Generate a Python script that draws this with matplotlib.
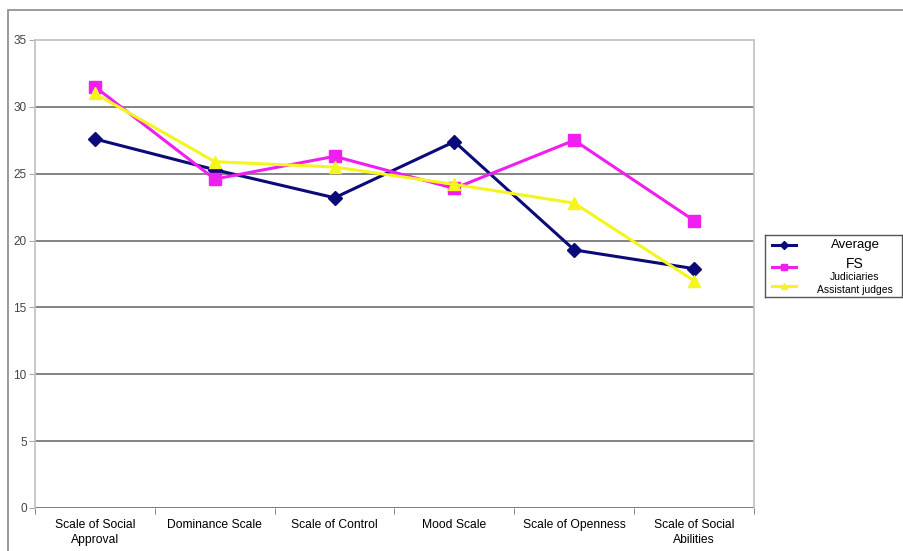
import numpy as np
import matplotlib.pyplot as plt
from matplotlib.patches import Rectangle

plt.rcParams['font.family'] = ['Liberation Sans Narrow', 'Liberation Sans', 'DejaVu Sans']

categories = ['Scale of Social\nApproval', 'Dominance Scale', 'Scale of Control',
              'Mood Scale', 'Scale of Openness', 'Scale of Social\nAbilities']
average = [27.6, 25.3, 23.2, 27.4, 19.3, 17.9]
judiciaries = [31.5, 24.6, 26.3, 23.9, 27.5, 21.5]
assistant = [31.0, 25.9, 25.5, 24.2, 22.8, 17.0]
yticks = [0, 5, 10, 15, 20, 25, 30, 35]

navy = '#0a0a78'
magenta = '#f01ef0'
yellow = '#f5f51e'

fig = plt.figure(figsize=(9.04, 5.51), dpi=100)
# outer chart frame
fig.patches.append(Rectangle((8 / 904, -0.05), 1.0, 1 - 10 / 551 + 0.05,
                             transform=fig.transFigure, fill=False,
                             edgecolor='#8a8a8a', linewidth=1.2))

ax = fig.add_axes([35 / 904, 43 / 551, (754 - 35) / 904, (508 - 40) / 551])
x = np.arange(len(categories))
ax.plot(x, average, color=navy, marker='D', markersize=7, linewidth=2.2, zorder=3)
ax.plot(x, judiciaries, color=magenta, marker='s', markersize=8, linewidth=2.2, zorder=3)
ax.plot(x, assistant, color=yellow, marker='^', markersize=8, linewidth=2.2, zorder=4)

ax.set_xlim(-0.5, len(categories) - 0.5)
ax.set_ylim(0, 35)
ax.set_yticks(yticks)
for t in yticks[1:-1]:
    ax.axhline(t, color='#6e6e6e', linewidth=1.2, zorder=1)
ax.axhline(0, color='#6e6e6e', linewidth=2, zorder=2)

ax.set_xticks(x)
ax.set_xticklabels(categories, fontsize=8.7, linespacing=1.35)
ax.set_xticks(np.arange(len(categories) + 1) - 0.5, minor=True)
ax.tick_params(axis='x', which='major', length=0, pad=8)
ax.tick_params(axis='x', which='minor', length=4, color='#6e6e6e')
ax.tick_params(axis='y', labelsize=8.5, labelcolor='#444444', color='#aaaaaa', length=4, pad=2)
for s in ['left', 'right', 'top']:
    ax.spines[s].set_color('#c0c0c0')
    ax.spines[s].set_linewidth(1.2)
ax.spines['bottom'].set_visible(False)

# legend box
lg = fig.add_axes([765 / 904, 1 - 297 / 551, (902 - 765) / 904, (297 - 235) / 551])
lg.set_xlim(0, 137)
lg.set_ylim(62, 0)
lg.set_xticks([])
lg.set_yticks([])
for s in lg.spines.values():
    s.set_color('#555555')
    s.set_linewidth(1)
lg.plot([7, 31], [10, 10], color=navy, linewidth=2.2)
lg.plot([19], [10], color=navy, marker='D', markersize=4)
lg.plot([7, 31], [32, 32], color=magenta, linewidth=2.2)
lg.plot([19], [32], color=magenta, marker='s', markersize=5)
lg.plot([7, 31], [51, 51], color=yellow, linewidth=2.2)
lg.plot([19], [51], color=yellow, marker='^', markersize=5)
lg.text(90, 10, 'Average', ha='center', va='center', fontsize=9.5)
lg.text(90, 29, 'FS', ha='center', va='center', fontsize=10)
lg.text(90, 42, 'Judiciaries', ha='center', va='center', fontsize=7.5)
lg.text(90, 55, 'Assistant judges', ha='center', va='center', fontsize=7.5)

fig.savefig('out.png', dpi=100)
